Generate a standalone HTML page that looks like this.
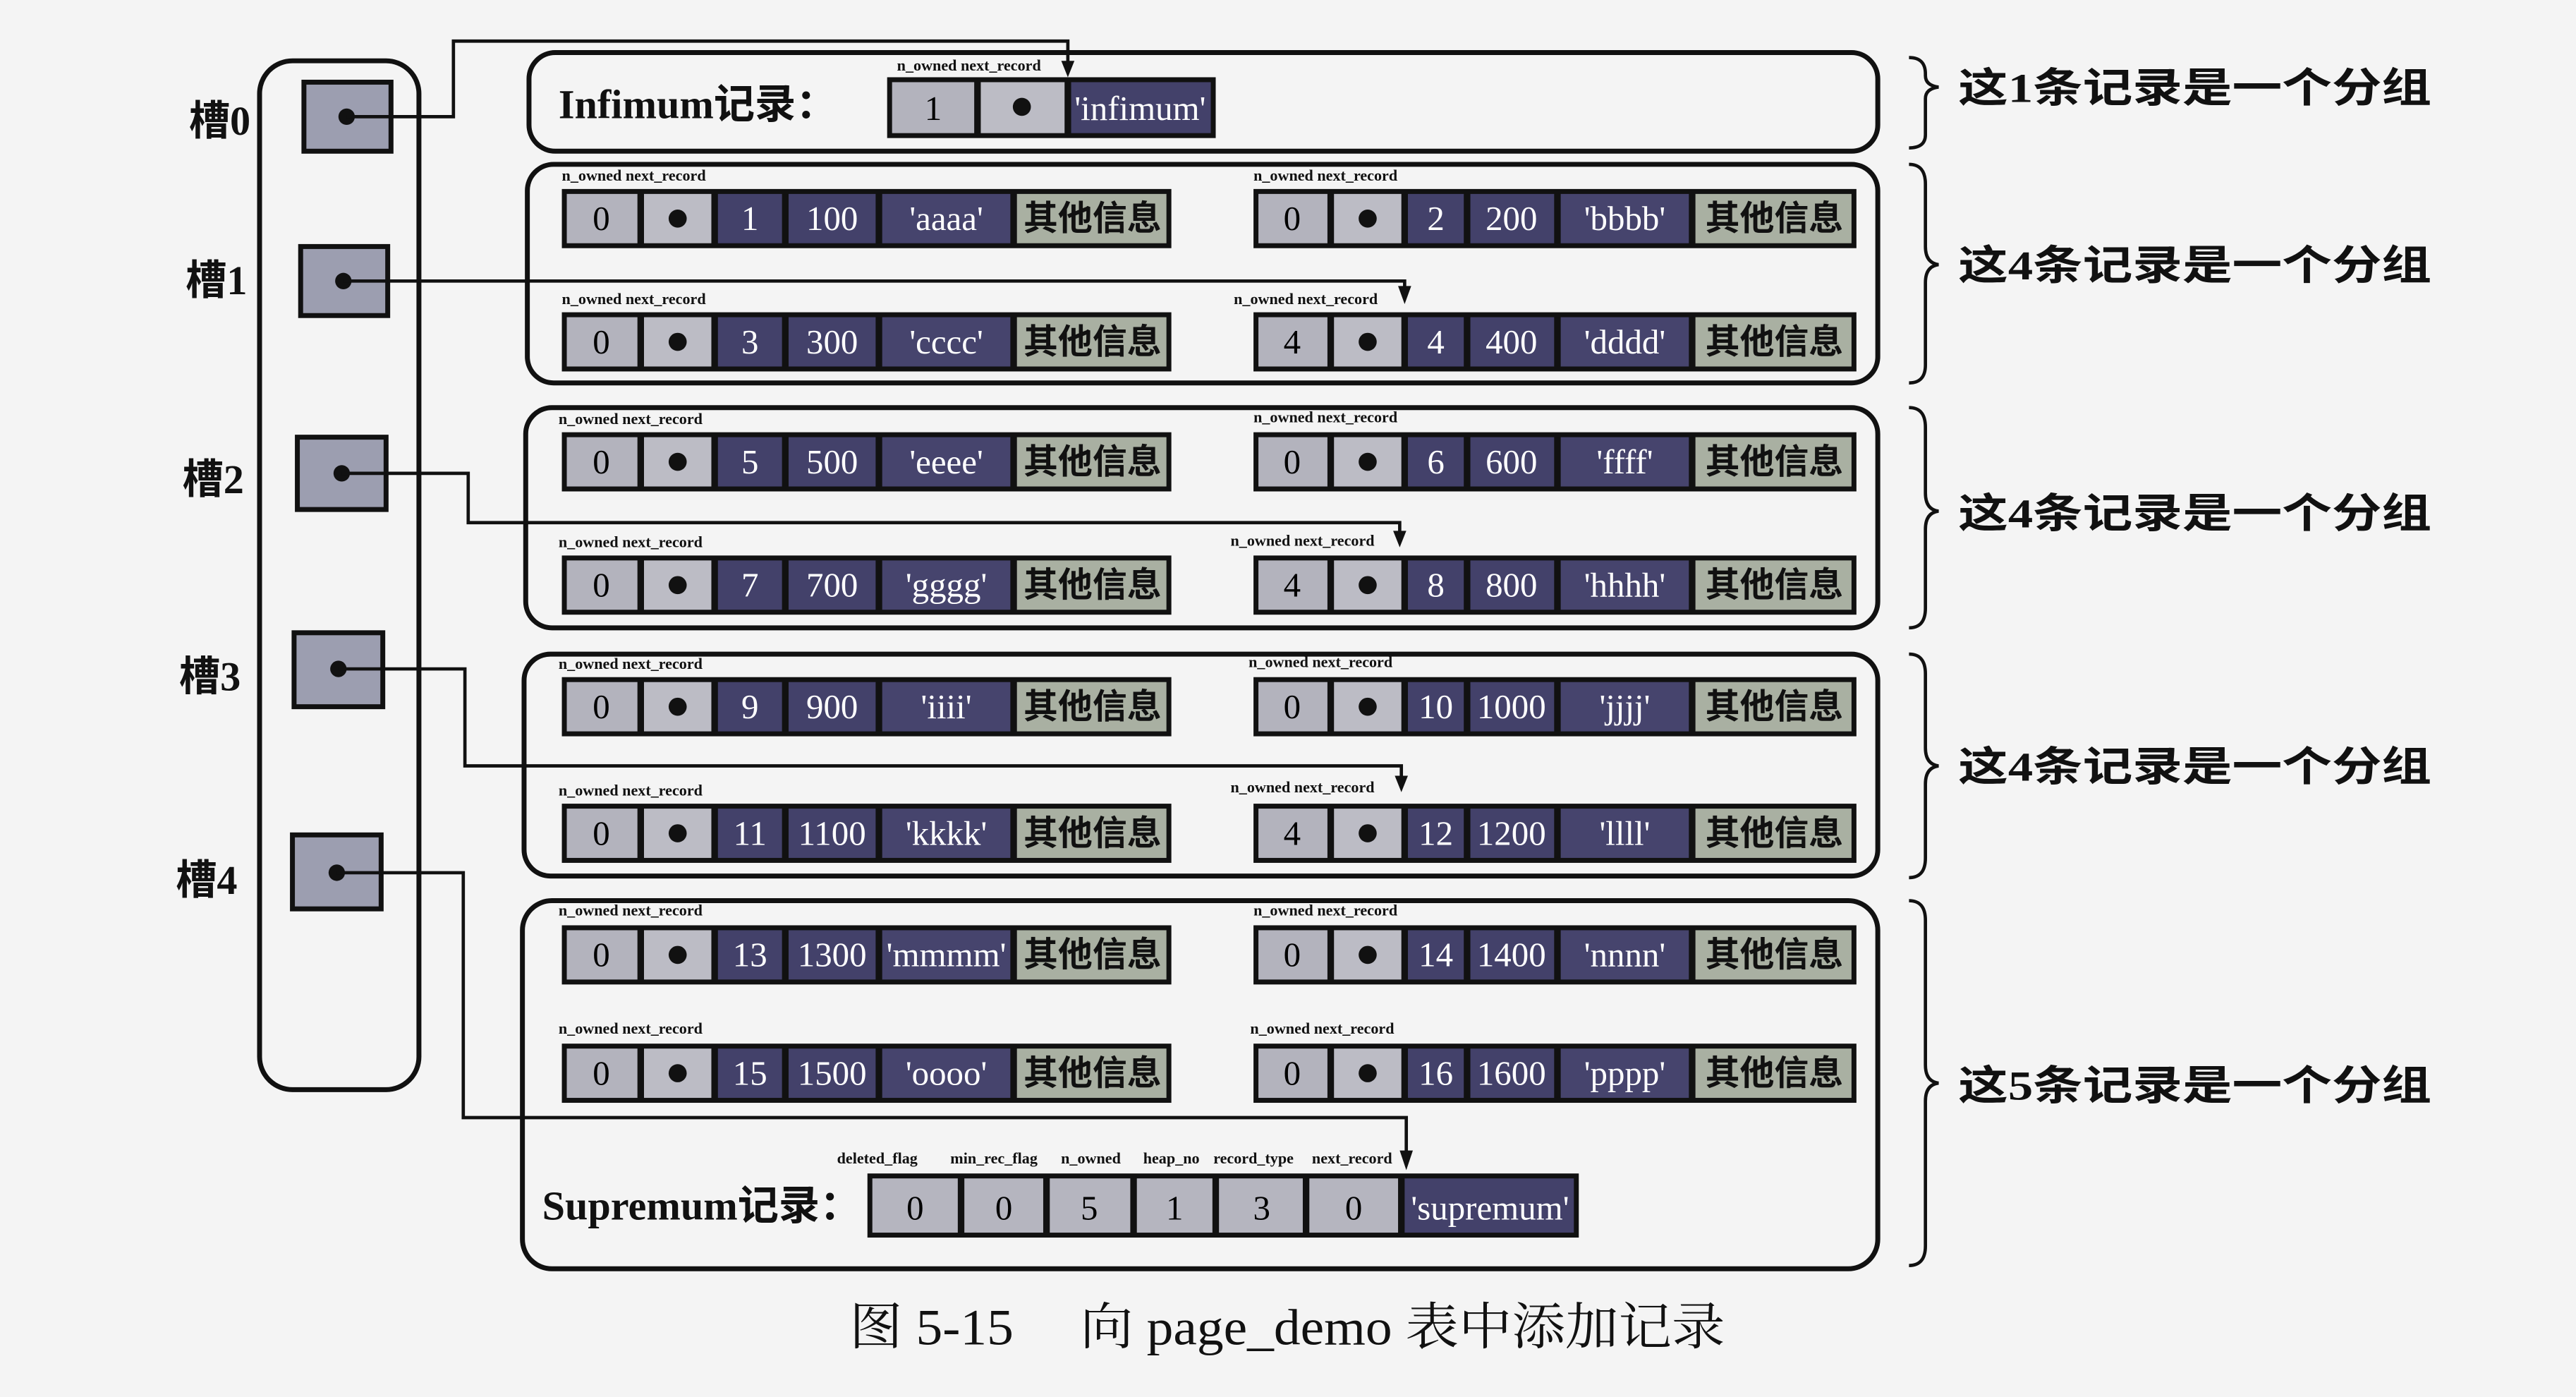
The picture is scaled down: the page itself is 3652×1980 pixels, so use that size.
<!DOCTYPE html>
<html><head><meta charset="utf-8"><style>
html,body{margin:0;padding:0;background:#f4f4f4;}
svg{display:block;}
.t{font-family:"Liberation Serif","Noto Serif CJK SC",serif;font-size:21px;text-anchor:middle;}
.w{fill:#fff;}
.o{font-family:"Liberation Serif","Noto Sans CJK SC",sans-serif;font-size:21px;font-weight:bold;text-anchor:middle;fill:#111;}
.s{font-family:"Liberation Serif",serif;font-size:9.5px;font-weight:bold;fill:#111;}
.g{font-family:"Liberation Serif","Noto Sans CJK SC",sans-serif;font-size:25px;font-weight:bold;fill:#111;}
.c{font-family:"Liberation Serif","Noto Serif CJK SC",serif;font-size:31px;fill:#111;}
</style></head><body>
<svg width="3652" height="1980" viewBox="0 0 1568 850" preserveAspectRatio="none" xmlns="http://www.w3.org/2000/svg">
<defs>
<symbol id="L" overflow="visible">
<rect x="0" y="0" width="371" height="36" fill="#111"/>
<rect x="3" y="3" width="43" height="30" fill="#b3b3bd"/>
<rect x="50" y="3" width="41" height="30" fill="#bcbcc5"/>
<rect x="95" y="3" width="39" height="30" fill="#43416a"/>
<rect x="138" y="3" width="53" height="30" fill="#43416a"/>
<rect x="195" y="3" width="78" height="30" fill="#46446d"/>
<rect x="277" y="3" width="91" height="30" fill="#a9b0a2"/>
<circle cx="70.5" cy="18" r="5.5" fill="#111"/>
</symbol>
<symbol id="R" overflow="visible">
<rect x="0" y="0" width="367" height="36" fill="#111"/>
<rect x="3" y="3" width="42" height="30" fill="#b3b3bd"/>
<rect x="49" y="3" width="41" height="30" fill="#bcbcc5"/>
<rect x="94" y="3" width="34" height="30" fill="#43416a"/>
<rect x="132" y="3" width="51" height="30" fill="#43416a"/>
<rect x="187" y="3" width="78" height="30" fill="#46446d"/>
<rect x="269" y="3" width="95" height="30" fill="#a9b0a2"/>
<circle cx="69.5" cy="18" r="5.5" fill="#111"/>
</symbol>
</defs>

<!-- slot column -->
<rect x="158" y="37" width="97" height="626" rx="20" fill="none" stroke="#111" stroke-width="3"/>
<g fill="#9c9eb0" stroke="#111" stroke-width="3">
<rect x="185" y="50" width="53" height="42"/>
<rect x="183" y="150" width="53" height="42"/>
<rect x="181" y="266" width="54" height="44"/>
<rect x="179" y="385" width="54" height="45"/>
<rect x="178" y="508" width="54" height="45"/>
</g>
<g fill="#111"><circle cx="211" cy="71" r="5"/><circle cx="209" cy="171" r="5"/><circle cx="208" cy="288" r="5"/><circle cx="206" cy="407" r="5"/><circle cx="205" cy="531" r="5"/></g>
<g class="g" font-size="23">
<text x="115" y="82">槽0</text><text x="113" y="179">槽1</text><text x="111" y="300">槽2</text><text x="109" y="420">槽3</text><text x="107" y="544">槽4</text>
</g>

<!-- group boxes -->
<g fill="none" stroke="#111" stroke-width="3">
<rect x="322" y="32" width="821" height="60" rx="16"/>
<rect x="321" y="100" width="822" height="133" rx="16"/>
<rect x="320" y="248" width="823" height="134" rx="16"/>
<rect x="319" y="398" width="824" height="135" rx="16"/>
<rect x="318" y="548" width="825" height="224" rx="18"/>
</g>

<!-- infimum -->
<text class="g" x="340" y="72" font-size="23">Infimum记录：</text>
<text class="s" x="546" y="43">n_owned next_record</text>
<rect x="540" y="47" width="200" height="37" fill="#111"/>
<rect x="543" y="50" width="50" height="31" fill="#b3b3bd"/>
<rect x="597" y="50" width="51" height="31" fill="#bcbcc5"/>
<rect x="652" y="50" width="85" height="31" fill="#43416a"/>
<circle cx="622" cy="65" r="5.5" fill="#111"/>
<text class="t" x="568" y="73">1</text>
<text class="t w" x="694" y="73">'infimum'</text>

<!-- records -->
<g>
<use href="#L" x="342" y="115"/><text class="s" x="342" y="110">n_owned next_record</text>
<text class="t" x="366" y="140">0</text><text class="t w" x="456.5" y="140">1</text><text class="t w" x="506.5" y="140">100</text><text class="t w" x="576" y="140">'aaaa'</text><text class="o" x="665" y="140">其他信息</text>
<use href="#R" x="763" y="115"/><text class="s" x="763" y="110">n_owned next_record</text>
<text class="t" x="786.5" y="140">0</text><text class="t w" x="874" y="140">2</text><text class="t w" x="920" y="140">200</text><text class="t w" x="989" y="140">'bbbb'</text><text class="o" x="1080" y="140">其他信息</text>

<use href="#L" x="342" y="190"/><text class="s" x="342" y="185">n_owned next_record</text>
<text class="t" x="366" y="215">0</text><text class="t w" x="456.5" y="215">3</text><text class="t w" x="506.5" y="215">300</text><text class="t w" x="576" y="215">'cccc'</text><text class="o" x="665" y="215">其他信息</text>
<use href="#R" x="763" y="190"/><text class="s" x="751" y="185">n_owned next_record</text>
<text class="t" x="786.5" y="215">4</text><text class="t w" x="874" y="215">4</text><text class="t w" x="920" y="215">400</text><text class="t w" x="989" y="215">'dddd'</text><text class="o" x="1080" y="215">其他信息</text>

<use href="#L" x="342" y="263"/><text class="s" x="340" y="258">n_owned next_record</text>
<text class="t" x="366" y="288">0</text><text class="t w" x="456.5" y="288">5</text><text class="t w" x="506.5" y="288">500</text><text class="t w" x="576" y="288">'eeee'</text><text class="o" x="665" y="288">其他信息</text>
<use href="#R" x="763" y="263"/><text class="s" x="763" y="257">n_owned next_record</text>
<text class="t" x="786.5" y="288">0</text><text class="t w" x="874" y="288">6</text><text class="t w" x="920" y="288">600</text><text class="t w" x="989" y="288">'ffff'</text><text class="o" x="1080" y="288">其他信息</text>

<use href="#L" x="342" y="338"/><text class="s" x="340" y="333">n_owned next_record</text>
<text class="t" x="366" y="363">0</text><text class="t w" x="456.5" y="363">7</text><text class="t w" x="506.5" y="363">700</text><text class="t w" x="576" y="363">'gggg'</text><text class="o" x="665" y="363">其他信息</text>
<use href="#R" x="763" y="338"/><text class="s" x="749" y="332">n_owned next_record</text>
<text class="t" x="786.5" y="363">4</text><text class="t w" x="874" y="363">8</text><text class="t w" x="920" y="363">800</text><text class="t w" x="989" y="363">'hhhh'</text><text class="o" x="1080" y="363">其他信息</text>

<use href="#L" x="342" y="412"/><text class="s" x="340" y="407">n_owned next_record</text>
<text class="t" x="366" y="437">0</text><text class="t w" x="456.5" y="437">9</text><text class="t w" x="506.5" y="437">900</text><text class="t w" x="576" y="437">'iiii'</text><text class="o" x="665" y="437">其他信息</text>
<use href="#R" x="763" y="412"/><text class="s" x="760" y="406">n_owned next_record</text>
<text class="t" x="786.5" y="437">0</text><text class="t w" x="874" y="437">10</text><text class="t w" x="920" y="437">1000</text><text class="t w" x="989" y="437">'jjjj'</text><text class="o" x="1080" y="437">其他信息</text>

<use href="#L" x="342" y="489"/><text class="s" x="340" y="484">n_owned next_record</text>
<text class="t" x="366" y="514">0</text><text class="t w" x="456.5" y="514">11</text><text class="t w" x="506.5" y="514">1100</text><text class="t w" x="576" y="514">'kkkk'</text><text class="o" x="665" y="514">其他信息</text>
<use href="#R" x="763" y="489"/><text class="s" x="749" y="482">n_owned next_record</text>
<text class="t" x="786.5" y="514">4</text><text class="t w" x="874" y="514">12</text><text class="t w" x="920" y="514">1200</text><text class="t w" x="989" y="514">'llll'</text><text class="o" x="1080" y="514">其他信息</text>

<use href="#L" x="342" y="563"/><text class="s" x="340" y="557">n_owned next_record</text>
<text class="t" x="366" y="588">0</text><text class="t w" x="456.5" y="588">13</text><text class="t w" x="506.5" y="588">1300</text><text class="t w" x="576" y="588" font-size="19">'mmmm'</text><text class="o" x="665" y="588">其他信息</text>
<use href="#R" x="763" y="563"/><text class="s" x="763" y="557">n_owned next_record</text>
<text class="t" x="786.5" y="588">0</text><text class="t w" x="874" y="588">14</text><text class="t w" x="920" y="588">1400</text><text class="t w" x="989" y="588">'nnnn'</text><text class="o" x="1080" y="588">其他信息</text>

<use href="#L" x="342" y="635"/><text class="s" x="340" y="629">n_owned next_record</text>
<text class="t" x="366" y="660">0</text><text class="t w" x="456.5" y="660">15</text><text class="t w" x="506.5" y="660">1500</text><text class="t w" x="576" y="660">'oooo'</text><text class="o" x="665" y="660">其他信息</text>
<use href="#R" x="763" y="635"/><text class="s" x="761" y="629">n_owned next_record</text>
<text class="t" x="786.5" y="660">0</text><text class="t w" x="874" y="660">16</text><text class="t w" x="920" y="660">1600</text><text class="t w" x="989" y="660">'pppp'</text><text class="o" x="1080" y="660">其他信息</text>
</g>

<!-- supremum -->
<text class="g" x="330" y="742" font-size="23">Supremum记录：</text>
<g class="s" text-anchor="middle">
<text x="534" y="708">deleted_flag</text><text x="605" y="708">min_rec_flag</text><text x="664" y="708">n_owned</text><text x="713" y="708">heap_no</text><text x="763" y="708">record_type</text><text x="823" y="708">next_record</text>
</g>
<rect x="528" y="714" width="433" height="39" fill="#111"/>
<g fill="#b5b5bf">
<rect x="531" y="717" width="52" height="33"/><rect x="587" y="717" width="48" height="33"/><rect x="639" y="717" width="49" height="33"/><rect x="692" y="717" width="46" height="33"/><rect x="742" y="717" width="51" height="33"/><rect x="797" y="717" width="54" height="33"/>
</g>
<rect x="855" y="717" width="103" height="33" fill="#43416a"/>
<text class="t" x="557" y="742">0</text><text class="t" x="611" y="742">0</text><text class="t" x="663" y="742">5</text><text class="t" x="715" y="742">1</text><text class="t" x="768" y="742">3</text><text class="t" x="824" y="742">0</text>
<text class="t w" x="907" y="742">'supremum'</text>

<!-- connectors -->
<g fill="none" stroke="#111" stroke-width="2">
<polyline points="211,71 276,71 276,25 650,25 650,38"/>
<polyline points="209,171 855,171 855,176"/>
<polyline points="208,288 285,288 285,318 852,318 852,325"/>
<polyline points="206,407 283,407 283,466 853,466 853,474"/>
<polyline points="205,531 282,531 282,680 856,680 856,702"/>
</g>
<g fill="#111">
<path d="M646,37 L654,37 L650,47 Z"/>
<path d="M851,174 L859,174 L855,185 Z"/>
<path d="M848,323 L856,323 L852,333 Z"/>
<path d="M849,472 L857,472 L853,482 Z"/>
<path d="M852,700 L860,700 L856,712 Z"/>
</g>

<!-- braces -->
<g fill="none" stroke="#111" stroke-width="2">
<path d="M1162,35 Q1172,35 1172,45 L1172,46 Q1172,52 1180,53 Q1172,54 1172,60 L1172,82 Q1172,90 1162,90"/>
<path d="M1162,100 Q1172,100 1172,112 L1172,150 Q1172,160 1180,161 Q1172,162 1172,172 L1172,222 Q1172,233 1162,233"/>
<path d="M1162,248 Q1172,248 1172,260 L1172,300 Q1172,310 1180,311 Q1172,312 1172,322 L1172,370 Q1172,382 1162,382"/>
<path d="M1162,398 Q1172,398 1172,410 L1172,455 Q1172,465 1180,466 Q1172,467 1172,477 L1172,522 Q1172,534 1162,534"/>
<path d="M1162,548 Q1172,548 1172,560 L1172,648 Q1172,658 1180,659 Q1172,660 1172,670 L1172,758 Q1172,770 1162,770"/>
</g>
<g class="g" font-size="27">
<text x="1192" y="62" textLength="288" lengthAdjust="spacingAndGlyphs">这1条记录是一个分组</text>
<text x="1192" y="170" textLength="288" lengthAdjust="spacingAndGlyphs">这4条记录是一个分组</text>
<text x="1192" y="321" textLength="288" lengthAdjust="spacingAndGlyphs">这4条记录是一个分组</text>
<text x="1192" y="475" textLength="288" lengthAdjust="spacingAndGlyphs">这4条记录是一个分组</text>
<text x="1192" y="669" textLength="288" lengthAdjust="spacingAndGlyphs">这5条记录是一个分组</text>
</g>

<text class="c" x="517" y="818" textLength="533" lengthAdjust="spacingAndGlyphs">图 5-15　 向 page_demo 表中添加记录</text>
</svg>
</body></html>
